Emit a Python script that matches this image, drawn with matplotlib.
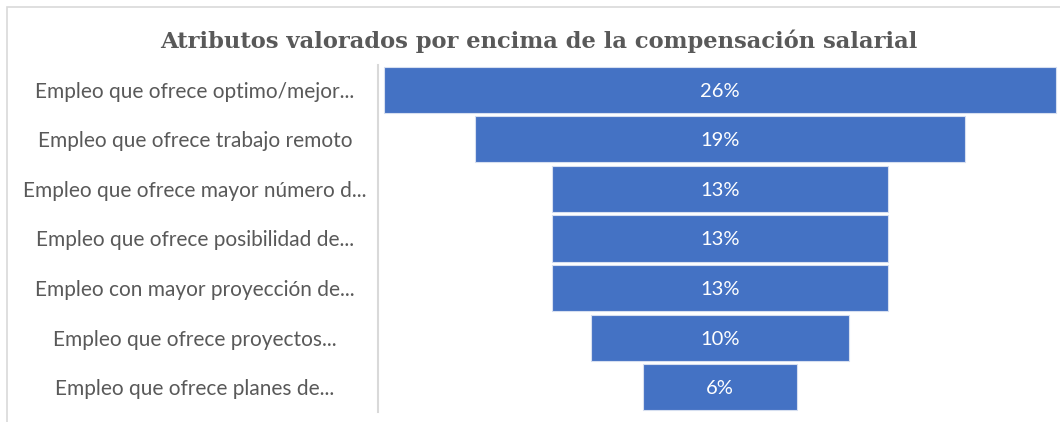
import matplotlib.pyplot as plt
from matplotlib.patches import Rectangle

# Atributos (de arriba hacia abajo) y porcentaje de cada uno
categorias = [
    "Empleo que ofrece optimo/mejor...",
    "Empleo que ofrece trabajo remoto",
    "Empleo que ofrece mayor número d...",
    "Empleo que ofrece posibilidad de...",
    "Empleo con mayor proyección de...",
    "Empleo que ofrece proyectos...",
    "Empleo que ofrece planes de...",
]
porcentajes = [26, 19, 13, 13, 13, 10, 6]
etiquetas = ["26%", "19%", "13%", "13%", "13%", "10%", "6%"]

azul = "#4472C4"
gris = "#595959"

fig = plt.figure(figsize=(10.6, 4.22), dpi=100)
W, H = 1060, 422

# marco gris claro del gráfico
fig.patches.append(Rectangle((7 / W, -0.1), 1.2, 1 - 7 / H + 0.1,
                             transform=fig.transFigure, fill=False,
                             edgecolor="#D9D9D9", linewidth=1.2))

ax = fig.add_axes([378 / W, 1 - 412 / H, 684 / W, 347 / H])

# embudo: cada barra centrada en cero
pos = list(range(len(categorias)))
izq = [-v / 2 for v in porcentajes]
ax.barh(pos, porcentajes, left=izq, height=0.93, color=azul,
        edgecolor="#D6DFF0", linewidth=0.8)

for p, v, t in zip(pos, porcentajes, etiquetas):
    ax.text(0, p + 0.03, t, ha="center", va="center", color="white",
            fontsize=14.5, family="Lato")

ax.set_xlim(-13.25, 13.25)
ax.set_ylim(len(categorias) - 0.5, -0.5)
ax.set_xticks([])
ax.set_yticks([])
for s in ["top", "right", "bottom"]:
    ax.spines[s].set_visible(False)
ax.spines["left"].set_color("#D9D9D9")
ax.spines["left"].set_linewidth(1.5)

# etiquetas de categorías, centradas en la columna izquierda
for p, c in zip(pos, categorias):
    ax.annotate(c, xy=(0, p + 0.04), xycoords=("figure fraction", "data"),
                xytext=(195 / W, 0), textcoords=("figure fraction", "offset points"),
                ha="center", va="center", color=gris, fontsize=15, family="Lato")

fig.text(539 / W, 1 - 41 / H, "Atributos valorados por encima de la compensación salarial",
         ha="center", va="center", color=gris, fontsize=16.3,
         fontweight="bold", family="DejaVu Serif")

fig.savefig("out.png", dpi=100)
